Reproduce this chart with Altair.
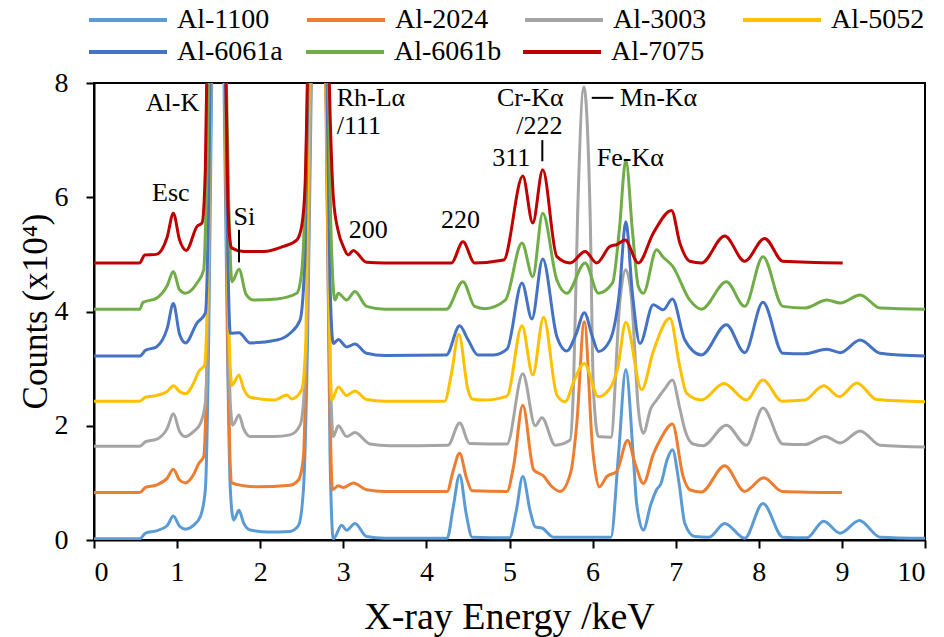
import altair as alt
import pandas as pd

series_names = ["Al-1100", "Al-2024", "Al-3003", "Al-5052", "Al-6061a", "Al-6061b", "Al-7075"]
series_colors = ["#5B9BD5", "#ED7D31", "#A5A5A5", "#FFC000", "#4472C4", "#70AD47", "#C00000"]

al1100_x = [0, 0.55, 0.62, 0.75, 0.88, 0.955, 1.03, 1.10, 1.20, 1.28, 1.34, 1.38, 1.42, 1.49, 1.56, 1.61, 1.64, 1.68, 1.745, 1.80, 1.88, 2.1, 2.36, 2.46, 2.52, 2.57, 2.62, 2.70, 2.79, 2.84, 2.88, 2.98, 3.04, 3.14, 3.28, 3.5, 4.25, 4.32, 4.40, 4.48, 4.55, 5.0, 5.08, 5.16, 5.25, 5.31, 5.39, 5.53, 6.22, 6.31, 6.40, 6.49, 6.53, 6.61, 6.70, 6.77, 6.82, 6.90, 6.96, 7.04, 7.11, 7.23, 7.40, 7.59, 7.83, 8.05, 8.29, 8.58, 8.78, 8.98, 9.21, 9.46, 10.0]
al1100_y = [0.02, 0.02, 0.12, 0.16, 0.25, 0.42, 0.24, 0.19, 0.26, 0.41, 0.88, 3.5, 8.5, 15, 8.5, 3.0, 0.9, 0.35, 0.52, 0.3, 0.175, 0.14, 0.15, 0.25, 0.88, 3.5, 8.5, 15, 8.5, 1.5, 0.02, 0.26, 0.17, 0.29, 0.06, 0.03, 0.03, 0.55, 1.14, 0.45, 0.05, 0.04, 0.5, 1.11, 0.5, 0.23, 0.21, 0.05, 0.05, 1.46, 2.98, 1.46, 0.64, 0.175, 0.62, 0.88, 0.98, 1.42, 1.58, 1.0, 0.29, 0.06, 0.05, 0.29, 0.03, 0.64, 0.05, 0.04, 0.33, 0.12, 0.34, 0.05, 0.03]

al2024_x = [0, 0.55, 0.62, 0.75, 0.88, 0.955, 1.03, 1.10, 1.20, 1.26, 1.32, 1.37, 1.415, 1.49, 1.565, 1.61, 1.64, 1.66, 1.8, 1.96, 2.36, 2.46, 2.52, 2.57, 2.62, 2.70, 2.78, 2.84, 2.87, 2.94, 3.0, 3.12, 3.28, 3.5, 4.25, 4.32, 4.40, 4.48, 4.55, 4.97, 5.05, 5.16, 5.29, 5.41, 5.50, 5.61, 5.74, 5.81, 5.90, 6.00, 6.03, 6.08, 6.17, 6.29, 6.42, 6.52, 6.61, 6.73, 6.83, 6.96, 7.09, 7.17, 7.31, 7.59, 7.83, 8.06, 8.28, 9.0]
al2024_y = [0.83, 0.83, 0.92, 0.96, 1.08, 1.24, 1.05, 1.0, 1.15, 1.34, 1.46, 4.0, 9, 15, 9, 3.5, 1.3, 1.0, 0.95, 0.93, 0.96, 1.05, 1.45, 4.5, 9, 15, 9, 2.2, 0.88, 0.95, 0.92, 1.0, 0.88, 0.85, 0.85, 1.2, 1.52, 1.1, 0.86, 0.85, 1.3, 2.36, 1.23, 1.12, 0.95, 0.85, 1.2, 2.04, 3.82, 1.6, 1.23, 0.93, 1.11, 1.2, 1.74, 1.3, 0.99, 1.5, 1.8, 2.03, 1.11, 0.88, 0.84, 1.30, 0.85, 1.09, 0.85, 0.83]

al3003_x = [0, 0.55, 0.62, 0.75, 0.88, 0.955, 1.03, 1.10, 1.20, 1.28, 1.34, 1.38, 1.42, 1.49, 1.56, 1.61, 1.64, 1.67, 1.745, 1.80, 1.88, 2.16, 2.36, 2.48, 2.53, 2.58, 2.62, 2.70, 2.79, 2.84, 2.88, 2.94, 3.04, 3.14, 3.32, 3.56, 4.26, 4.40, 4.52, 4.97, 5.16, 5.31, 5.39, 5.55, 5.73, 5.77, 5.82, 5.895, 5.97, 6.01, 6.07, 6.22, 6.33, 6.40, 6.47, 6.55, 6.61, 6.70, 6.77, 6.87, 6.96, 7.05, 7.11, 7.21, 7.33, 7.61, 7.85, 8.05, 8.29, 8.55, 8.80, 8.98, 9.22, 9.46, 10.0]
al3003_y = [1.64, 1.64, 1.72, 1.76, 1.95, 2.21, 1.9, 1.81, 1.9, 2.04, 2.4, 4.5, 9.5, 16, 9.5, 4.5, 2.4, 2.01, 2.19, 1.95, 1.81, 1.81, 1.84, 2.01, 2.6, 5.0, 9.5, 16, 9.5, 3.2, 1.81, 2.0, 1.81, 1.88, 1.68, 1.65, 1.66, 2.05, 1.69, 1.68, 2.91, 2.0, 2.14, 1.66, 1.75, 2.68, 5.72, 7.93, 5.72, 2.63, 1.81, 1.8, 4.2, 4.73, 4.2, 2.3, 1.87, 2.3, 2.45, 2.65, 2.80, 2.3, 1.93, 1.68, 1.65, 2.01, 1.66, 2.31, 1.68, 1.67, 1.81, 1.70, 1.91, 1.66, 1.63]

al5052_x = [0, 0.55, 0.62, 0.75, 0.88, 0.955, 1.03, 1.10, 1.20, 1.26, 1.33, 1.375, 1.415, 1.49, 1.565, 1.61, 1.64, 1.66, 1.745, 1.80, 1.88, 2.17, 2.32, 2.38, 2.50, 2.55, 2.60, 2.70, 2.78, 2.83, 2.86, 2.94, 3.04, 3.14, 3.28, 3.5, 4.22, 4.30, 4.39, 4.50, 4.55, 4.7, 4.97, 5.15, 5.28, 5.41, 5.57, 5.67, 5.78, 5.90, 6.07, 6.21, 6.30, 6.40, 6.59, 6.73, 6.93, 7.05, 7.13, 7.31, 7.58, 7.85, 8.05, 8.28, 8.55, 8.78, 8.97, 9.18, 9.42, 10.0]
al5052_y = [2.43, 2.43, 2.50, 2.53, 2.6, 2.70, 2.6, 2.56, 2.75, 2.95, 3.06, 5.0, 9.5, 16, 9.5, 4.5, 3.0, 2.71, 2.89, 2.65, 2.50, 2.45, 2.54, 2.47, 2.63, 3.5, 9.5, 16, 9.5, 4.0, 2.45, 2.68, 2.53, 2.61, 2.46, 2.43, 2.43, 2.9, 3.60, 2.63, 2.47, 2.45, 2.52, 3.75, 2.89, 3.90, 2.54, 2.42, 2.8, 3.09, 2.51, 2.66, 3.0, 3.81, 2.63, 3.30, 3.88, 3.03, 2.57, 2.45, 2.74, 2.45, 2.80, 2.43, 2.45, 2.70, 2.51, 2.75, 2.46, 2.42]

al6061a_x = [0, 0.55, 0.62, 0.75, 0.88, 0.955, 1.03, 1.10, 1.24, 1.34, 1.38, 1.41, 1.49, 1.57, 1.61, 1.64, 1.745, 1.88, 2.2, 2.36, 2.48, 2.54, 2.59, 2.70, 2.79, 2.84, 2.88, 2.94, 3.04, 3.14, 3.28, 3.5, 4.24, 4.40, 4.50, 4.62, 4.81, 4.97, 5.15, 5.27, 5.40, 5.57, 5.69, 5.80, 5.90, 6.00, 6.07, 6.21, 6.32, 6.40, 6.48, 6.57, 6.73, 6.85, 6.96, 7.11, 7.31, 7.61, 7.83, 8.05, 8.29, 8.55, 8.82, 8.98, 9.22, 9.46, 10.0]
al6061a_y = [3.22, 3.22, 3.32, 3.38, 3.7, 4.14, 3.6, 3.45, 3.80, 3.97, 6.0, 9.5, 16, 9.5, 5.0, 3.62, 3.63, 3.45, 3.50, 3.62, 3.85, 5.0, 9.5, 16, 9.5, 4.5, 3.44, 3.51, 3.38, 3.43, 3.27, 3.23, 3.24, 3.75, 3.51, 3.24, 3.24, 3.34, 4.50, 3.87, 4.92, 3.56, 3.31, 3.6, 3.98, 3.55, 3.30, 3.50, 4.3, 5.57, 4.3, 3.44, 4.12, 4.03, 4.22, 3.50, 3.24, 3.77, 3.28, 4.16, 3.27, 3.26, 3.34, 3.28, 3.50, 3.27, 3.22]

al6061b_x = [0, 0.55, 0.59, 0.75, 0.88, 0.955, 1.03, 1.10, 1.24, 1.32, 1.36, 1.40, 1.49, 1.575, 1.62, 1.66, 1.745, 1.83, 1.92, 2.2, 2.44, 2.50, 2.55, 2.59, 2.70, 2.80, 2.85, 2.90, 2.94, 3.04, 3.14, 3.28, 3.5, 4.24, 4.44, 4.58, 4.7, 4.95, 5.15, 5.28, 5.40, 5.57, 5.69, 5.91, 6.07, 6.24, 6.32, 6.40, 6.48, 6.55, 6.61, 6.77, 6.85, 6.96, 7.17, 7.31, 7.61, 7.83, 8.05, 8.29, 8.55, 8.82, 8.98, 9.22, 9.46, 10.0]
al6061b_y = [4.04, 4.04, 4.16, 4.23, 4.45, 4.70, 4.38, 4.32, 4.50, 4.73, 6.5, 9.5, 16, 9.5, 6.0, 4.52, 4.74, 4.3, 4.20, 4.22, 4.32, 4.7, 6.5, 9.5, 16, 9.5, 5.5, 4.20, 4.32, 4.20, 4.35, 4.09, 4.04, 4.04, 4.52, 4.09, 4.05, 4.20, 5.20, 4.61, 5.72, 4.55, 4.32, 4.85, 4.32, 4.5, 5.4, 6.65, 5.4, 4.44, 4.32, 5.08, 4.95, 4.80, 4.20, 4.04, 4.52, 4.09, 4.96, 4.09, 4.06, 4.20, 4.15, 4.29, 4.06, 4.04]

al7075_x = [0, 0.55, 0.61, 0.75, 0.88, 0.955, 1.03, 1.11, 1.24, 1.30, 1.34, 1.37, 1.49, 1.58, 1.61, 1.64, 1.66, 1.80, 2.04, 2.28, 2.44, 2.50, 2.54, 2.58, 2.70, 2.80, 2.84, 2.88, 2.94, 3.0, 3.06, 3.12, 3.28, 3.5, 4.30, 4.44, 4.58, 4.93, 5.16, 5.28, 5.40, 5.57, 5.73, 5.91, 6.05, 6.21, 6.29, 6.39, 6.55, 6.73, 6.95, 7.05, 7.17, 7.31, 7.59, 7.83, 8.07, 8.29, 9.01]
al7075_y = [4.85, 4.85, 4.99, 5.0, 5.3, 5.72, 5.25, 5.07, 5.49, 5.55, 6.5, 9.5, 18, 9.0, 6.0, 5.2, 5.11, 5.05, 5.05, 5.14, 5.25, 5.5, 6.2, 9.0, 18, 10, 7.5, 6.0, 5.4, 5.14, 4.99, 5.07, 4.86, 4.85, 4.85, 5.22, 4.85, 4.90, 6.37, 5.55, 6.48, 4.96, 4.85, 5.05, 4.85, 5.14, 5.17, 5.25, 4.85, 5.37, 5.77, 5.20, 4.88, 4.85, 5.32, 4.88, 5.28, 4.88, 4.85]

all_x = [al1100_x, al2024_x, al3003_x, al5052_x, al6061a_x, al6061b_x, al7075_x]
all_y = [al1100_y, al2024_y, al3003_y, al5052_y, al6061a_y, al6061b_y, al7075_y]

# peak labels (text, energy keV, counts x10^4, alignment)
label_text = ["Al-K", "Esc", "Si", "Rh-L\u03b1", "/111", "200", "220", "311", "Cr-K\u03b1", "/222", "Mn-K\u03b1", "Fe-K\u03b1"]
label_x = [0.945, 0.925, 1.81, 2.92, 2.92, 3.30, 4.41, 5.02, 5.25, 5.36, 6.33, 6.05]
label_y = [7.65, 6.08, 5.66, 7.73, 7.24, 5.43, 5.60, 6.68, 7.73, 7.24, 7.74, 6.68]
label_align = ["center", "center", "center", "left", "left", "center", "center", "center", "center", "center", "left", "left"]

# leader lines (x, x2, y, y2)
lead_x = [1.745, 5.395, 5.99]
lead_x2 = [1.745, 5.395, 6.25]
lead_y = [5.43, 7.0, 7.74]
lead_y2 = [4.86, 6.63, 7.74]

rows = []
for k, name in enumerate(series_names):
    for xv, yv in zip(all_x[k], all_y[k]):
        rows.append({"energy": xv, "counts": yv, "series": name, "k": k})
df = pd.DataFrame(rows)

FONT = "Liberation Serif"

x_enc = alt.X("energy:Q", scale=alt.Scale(domain=[0, 10], nice=False),
              axis=alt.Axis(values=list(range(11)), format="d", title="X-ray Energy /keV", grid=False,
                            tickSize=8, tickWidth=2, tickColor="black", domainColor="black", domainWidth=2,
                            labelFont=FONT, labelFontSize=28, labelColor="black", labelPadding=10,
                            titleFont=FONT, titleFontSize=38, titleFontWeight="normal", titleColor="black",
                            titleX=415, titleY=77, titleBaseline="middle"))
y_enc = alt.Y("counts:Q", scale=alt.Scale(domain=[0, 8], nice=False),
              axis=alt.Axis(values=[0, 2, 4, 6, 8], format="d", title="Counts (x10\u2074)", grid=False,
                            tickSize=8, tickWidth=2, tickColor="black", domainColor="black", domainWidth=2,
                            labelFont=FONT, labelFontSize=28, labelColor="black", labelPadding=18,
                            titleFont=FONT, titleFontSize=35, titleFontWeight="normal", titleColor="black",
                            titleX=-59, titleY=228, titleBaseline="middle"))


def legend_for(ly, pad):
    return alt.Legend(orient="none", legendX=-7, legendY=ly, columns=4, title=None,
                      direction="horizontal",
                      symbolType="stroke", symbolSize=6084, symbolStrokeWidth=4,
                      labelFont=FONT, labelFontSize=28, labelColor="black",
                      labelOffset=8, columnPadding=pad, rowPadding=0, gridAlign="all",
                      padding=0, labelLimit=300)


names_a, colors_a = series_names[:4], series_colors[:4]
names_b, colors_b = series_names[4:], series_colors[4:]

lines_a = alt.Chart(df[df["series"].isin(names_a)]).mark_line(
    strokeWidth=3, clip=True, interpolate="monotone").encode(
    x=x_enc, y=y_enc,
    color=alt.Color("series:N", scale=alt.Scale(domain=names_a, range=colors_a),
                    legend=legend_for(-104, 28)),
    order=alt.Order("energy:Q"),
    detail="k:N",
)
lines_b = alt.Chart(df[df["series"].isin(names_b)]).mark_line(
    strokeWidth=3, clip=True, interpolate="monotone").encode(
    x=x_enc, y=y_enc,
    color=alt.Color("series:N", scale=alt.Scale(domain=names_b, range=colors_b),
                    legend=legend_for(-72, 13)),
    order=alt.Order("energy:Q"),
    detail="k:N",
)

ann_df = pd.DataFrame({"text": label_text, "x": label_x, "y": label_y, "align": label_align})
ann_center = alt.Chart(ann_df[ann_df["align"] == "center"]).mark_text(
    font=FONT, fontSize=26, color="black", align="center", baseline="middle").encode(
    x="x:Q", y="y:Q", text="text:N")
ann_left = alt.Chart(ann_df[ann_df["align"] == "left"]).mark_text(
    font=FONT, fontSize=26, color="black", align="left", baseline="middle").encode(
    x="x:Q", y="y:Q", text="text:N")

lead_df = pd.DataFrame({"x": lead_x, "x2": lead_x2, "y": lead_y, "y2": lead_y2})
leads = alt.Chart(lead_df).mark_rule(color="black", strokeWidth=2).encode(
    x="x:Q", x2="x2:Q", y="y:Q", y2="y2:Q")

chart = alt.layer(lines_a, lines_b, leads, ann_center, ann_left).resolve_scale(
    color="independent"
).properties(
    width=831, height=457,
    autosize=alt.AutoSizeParams(type="none"),
    padding={"left": 94, "top": 83, "right": 19, "bottom": 97},
    background="white",
).configure_view(stroke="black", strokeWidth=2).configure_axis(
    labelFont=FONT, titleFont=FONT
).configure_legend(labelFont=FONT).configure_text(font=FONT)

chart.save("out.html", embed_options={"renderer": "svg", "actions": False})
